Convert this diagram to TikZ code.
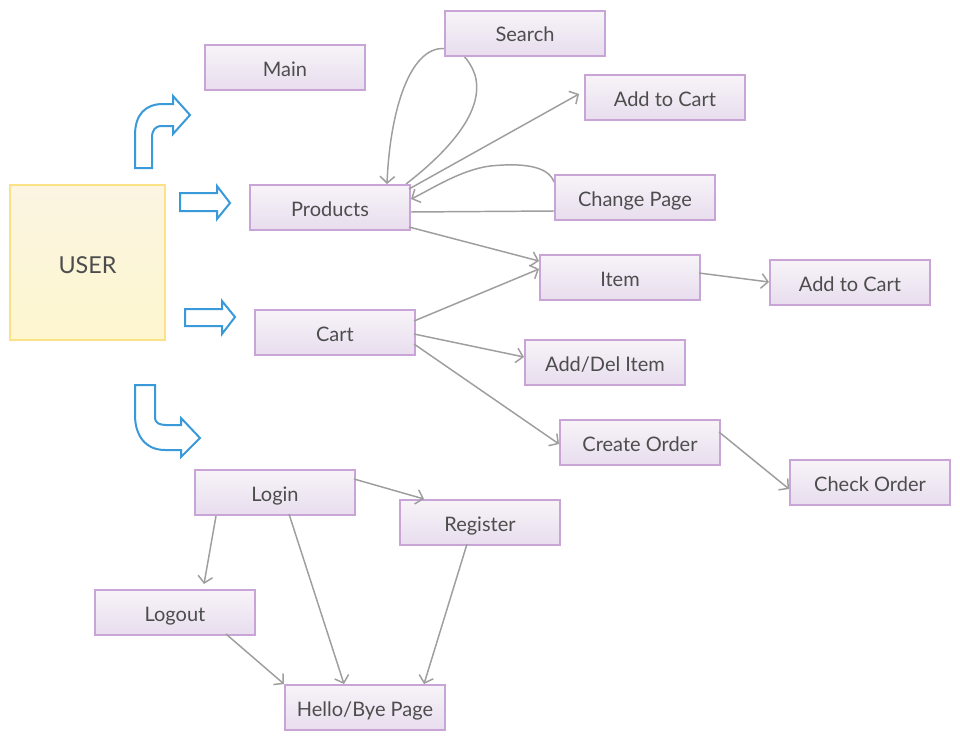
\documentclass[tikz,border=0pt]{standalone}
\usepackage{fontspec}
\setmainfont{Lato}
\usetikzlibrary{arrows.meta,calc,backgrounds}
\definecolor{boxtop}{HTML}{F7F4F8}
\definecolor{boxbot}{HTML}{E8DDEE}
\definecolor{boxline}{HTML}{C8A5D6}
\definecolor{usertop}{HTML}{FBF5E2}
\definecolor{userbot}{HTML}{FDF6CF}
\definecolor{userline}{HTML}{FCE287}
\definecolor{txt}{HTML}{4D4D4D}
\definecolor{conncol}{HTML}{9E9E9E}
\definecolor{blk}{HTML}{3A9AD9}
\begin{document}
\begin{tikzpicture}[x=0.75pt,y=-0.75pt,
  box/.style={rectangle, draw=boxline, line width=1.5pt, top color=boxtop, bottom color=boxbot,
    minimum width=120pt, minimum height=33.75pt, inner sep=0pt, text=txt,
    text height=13.2pt, text depth=0pt,
    font=\fontsize{15}{17}\selectfont},
  userbox/.style={rectangle, draw=userline, line width=1.5pt, top color=usertop, bottom color=userbot,
    minimum width=116.25pt, minimum height=116.25pt, inner sep=0pt, text=txt,
    text height=16pt, text depth=0pt,
    font=\fontsize{17.5}{20}\selectfont},
  conn/.style={draw=conncol, line width=1.1pt, -{Straight Barb[length=5pt,width=11pt]}},
  plainconn/.style={draw=conncol, line width=1.1pt},
  blockarrow/.style={draw=blk, line width=1.5pt, fill=white, line join=miter}]
\useasboundingbox (0,0) rectangle (960,740);

\node[userbox] (user) at (87.5,262.5) {USER};
\node[box] (main) at (285,67.5) {Main};
\node[box] (search) at (525,33) {Search};
\node[box] (cartA) at (665,97.5) {Add to Cart};
\node[box] (prod) at (330,207.5) {Products};
\node[box] (chpage) at (635,197.5) {Change Page};
\node[box] (item) at (620,277.5) {Item};
\node[box] (cartB) at (850,282.5) {Add to Cart};
\node[box] (cart) at (335,332.5) {Cart};
\node[box] (adddel) at (605,362.5) {Add/Del Item};
\node[box] (create) at (640,442.5) {Create Order};
\node[box] (check) at (870,482.5) {Check Order};
\node[box] (login) at (275,492.5) {Login};
\node[box] (register) at (480,522.5) {Register};
\node[box] (logout) at (175,612.5) {Logout};
\node[box] (hello) at (365,707.5) {Hello/Bye Page};

\begin{scope}[on background layer]
\fill[white] (0,0) rectangle (960,740);
% Search loop
\draw[conn] ($(prod.north west)+(157,0)$) .. controls (450,150) and (485,110) .. (475,75)
  .. controls (468,55) and (455,47) .. ($(search.south west)+(0,-8)$)
  .. controls (410,47) and (390,110) .. ($(prod.north west)+(138,0)$);
% Change Page loop
\draw[conn] ($(chpage.north west)+(0,8)$) .. controls (548,165) and (520,163) .. (490,166)
  .. controls (460,170) and (430,190) .. ($(prod.north west)+(162,15)$);
\draw[plainconn] ($(prod.north west)+(160,28)$) -- ($(chpage.north west)+(0,37)$);
\end{scope}

\draw[conn] ($(prod.north west)+(160,5)$) -- ($(cartA.north west)+(-5,20)$);
\draw[conn] ($(prod.north west)+(160,43)$) -- ($(item.north west)+(0,7)$);
\draw[conn] ($(cart.north west)+(160,12)$) -- ($(item.north west)+(0,15)$);
\draw[conn] ($(item.north west)+(160,19)$) -- ($(cartB.north west)+(0,23)$);
\draw[conn] ($(cart.north west)+(160,25)$) -- ($(adddel.north west)+(0,18)$);
\draw[conn] ($(cart.north west)+(160,35)$) -- ($(create.north west)+(0,25)$);
\draw[conn] ($(create.north west)+(160,13)$) -- ($(check.north west)+(0,30)$);
\draw[conn] ($(login.north west)+(160,10)$) -- ($(register.north west)+(25,0)$);
\draw[conn] ($(login.north west)+(22,47)$) -- ($(logout.north west)+(110,-5)$);
\draw[conn] ($(login.north west)+(95,45)$) -- ($(hello.north west)+(60,0)$);
\draw[conn] ($(register.north west)+(68,45)$) -- ($(hello.north west)+(140,0)$);
\draw[conn] ($(logout.north west)+(132,45)$) -- ($(hello.north west)+(0,0)$);

% blue block arrows
\draw[blockarrow] (135,168) -- (135,135) .. controls (135,115) and (145,104) .. (163,104)
  -- (173,104) -- (173,96) -- (190,115) -- (173,134) -- (173,126) -- (162,126)
  .. controls (155,126) and (152,130) .. (152,138) -- (152,168) -- cycle;
\draw[blockarrow] (180,193) -- (217,193) -- (217,186) -- (230,203) -- (217,219) -- (217,211) -- (180,211) -- cycle;
\draw[blockarrow] (185,309) -- (222,309) -- (222,301) -- (235,317) -- (222,334) -- (222,326) -- (185,326) -- cycle;
\draw[blockarrow] (135,385) -- (155,385) -- (155,418) .. controls (155,423) and (160,425) .. (166,425)
  -- (181,425) -- (181,418) -- (200,438) -- (181,457) -- (181,450) -- (165,450)
  .. controls (145,450) and (135,435) .. (135,415) -- cycle;
\end{tikzpicture}
\end{document}
